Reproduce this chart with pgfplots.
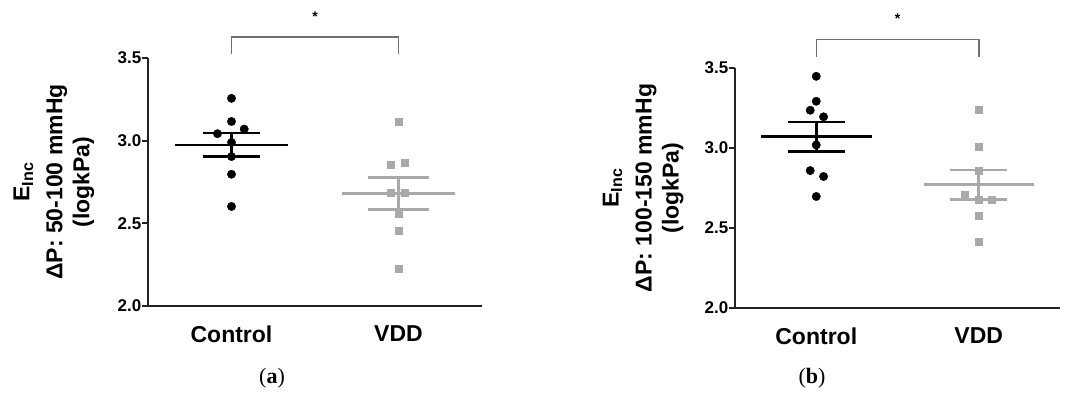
\documentclass[border=0pt]{standalone}
\usepackage{fontspec}
\setmainfont{Liberation Sans}
\newfontfamily\seriffont{Liberation Serif}
\usepackage{pgfplots}
\pgfplotsset{compat=1.18}
\definecolor{vddgray}{HTML}{A9A9A9}
\definecolor{brk}{HTML}{707070}
\definecolor{axc}{HTML}{222222}
\pgfplotsset{
 panel/.style={
  scale only axis, clip=false,
  axis x line*=bottom, axis y line*=left,
  axis line style={axc, line width=1.8pt},
  xmin=-0.5, xmax=1.5, ymin=2, ymax=3.5,
  xtick={0,1}, xticklabels={Control,VDD},
  ytick={2,2.5,3,3.5},
  /pgf/number format/fixed, /pgf/number format/fixed zerofill,
  /pgf/number format/precision=1, /pgf/number format/assume math mode=true,
  yticklabel style={font=\bfseries\fontsize{17}{17}\selectfont, inner sep=0.5pt},
  xticklabel style={font=\bfseries\fontsize{23}{23}\selectfont, yshift=-10pt},
  major tick length=6pt, tick align=outside,
  ytick style={axc, line width=1.8pt},
  xtick style={draw=none},
  ylabel style={font=\bfseries\fontsize{23}{27}\selectfont, align=center, anchor=south},
 },
 ctl/.style={only marks, mark=*, mark size=4.2pt, black},
 vdd/.style={only marks, mark=square*, mark size=3.5pt, vddgray, mark options={draw=vddgray}},
 ctlline/.style={black, line width=2.6pt},
 vddline/.style={vddgray, line width=2.6pt},
}
\begin{document}
\begin{tikzpicture}[x=1pt,y=1pt]
\useasboundingbox (0,0) rectangle (1065,396);
% ---------------- panel (a)
\begin{axis}[panel, at={(148pt,90pt)}, anchor=south west, width=334pt, height=248pt,
  ylabel={E\textsubscript{Inc}\\[6pt]ΔP: 50-100 mmHg\\(logkPa)},
  ylabel style={at={(axis description cs:-0.150,0.5)}}]
\addplot[ctl] coordinates {(0,3.256) (0,3.116) (-0.084,3.042) (0.076,3.070) (0,2.989) (0,2.904) (0,2.797) (0,2.602)};
\addplot[ctlline] coordinates {(-0.34,2.973) (0.34,2.973)};
\addplot[ctlline] coordinates {(-0.17,3.046) (0.17,3.046)};
\addplot[ctlline] coordinates {(-0.17,2.904) (0.17,2.904)};
\addplot[ctlline] coordinates {(0,2.904) (0,3.046)};
\addplot[vdd] coordinates {(1,3.114) (0.956,2.854) (1.04,2.868) (0.956,2.686) (1.04,2.686) (1,2.557) (1,2.456) (1,2.226)};
\addplot[vddline] coordinates {(0.66,2.682) (1.34,2.682)};
\addplot[vddline] coordinates {(0.82,2.779) (1.18,2.779)};
\addplot[vddline] coordinates {(0.82,2.585) (1.18,2.585)};
\addplot[vddline] coordinates {(1,2.585) (1,2.779)};
\addplot[brk, line width=1.5pt] coordinates {(0,3.524) (0,3.627) (1,3.627) (1,3.524)};
\node[font=\bfseries\fontsize{14}{14}\selectfont] at (axis cs:0.5,3.75) {*};
\end{axis}
% ---------------- panel (b)
\begin{axis}[panel, at={(735pt,88pt)}, anchor=south west, width=325pt, height=240pt,
  ylabel={E\textsubscript{Inc}\\[6pt]ΔP: 100-150 mmHg\\(logkPa)},
  ylabel style={at={(axis description cs:-0.148,0.5)}}]
\addplot[ctl] coordinates {(0,3.448) (0,3.292) (-0.037,3.236) (0.045,3.195) (0,3.019) (-0.037,2.859) (0.045,2.822) (0,2.697)};
\addplot[ctlline] coordinates {(-0.34,3.071) (0.34,3.071)};
\addplot[ctlline] coordinates {(-0.175,3.163) (0.175,3.163)};
\addplot[ctlline] coordinates {(-0.175,2.978) (0.175,2.978)};
\addplot[ctlline] coordinates {(0,2.978) (0,3.163)};
\addplot[vdd] coordinates {(1,3.240) (1,3.005) (1,2.858) (0.914,2.710) (1,2.675) (1.082,2.679) (1,2.575) (1,2.417)};
\addplot[vddline] coordinates {(0.66,2.772) (1.34,2.772)};
\addplot[vddline] coordinates {(0.825,2.862) (1.175,2.862)};
\addplot[vddline] coordinates {(0.825,2.679) (1.175,2.679)};
\addplot[vddline] coordinates {(1,2.679) (1,2.862)};
\addplot[brk, line width=1.5pt] coordinates {(0,3.567) (0,3.679) (1,3.679) (1,3.567)};
\node[font=\bfseries\fontsize{14}{14}\selectfont] at (axis cs:0.5,3.81) {*};
\end{axis}
\node[font=\seriffont\fontsize{22}{22}\selectfont] at (272,18) {(\textbf{a})};
\node[font=\seriffont\fontsize{22}{22}\selectfont] at (812,18) {(\textbf{b})};
\end{tikzpicture}
\end{document}
